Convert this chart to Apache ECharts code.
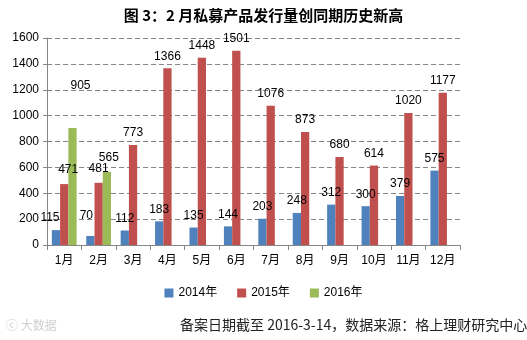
<!DOCTYPE html>
<html><head><meta charset="utf-8">
<script src="https://cdn.jsdelivr.net/npm/echarts@6/dist/echarts.min.js"></script>
<style>html,body{margin:0;padding:0;background:#fff}#c{width:527px;height:340px}</style>
</head><body><div id="c"></div>
<script>
const categories = ['1月','2月','3月','4月','5月','6月','7月','8月','9月','10月','11月','12月'];
const s2014 = [115, 70, 112, 183, 135, 144, 203, 248, 312, 300, 379, 575];
const s2015 = [471, 481, 773, 1366, 1448, 1501, 1076, 873, 680, 614, 1020, 1177];
const s2016 = [905, 565];
const seriesNames = ['2014年','2015年','2016年'];
const yTicks = {min: 0, max: 1600, interval: 200};

const colors = ['#4F81BD','#C0504D','#9BBB59'];
const lblFont = {fontFamily: 'Liberation Sans, Arial, sans-serif', fontSize: 12, color: '#000'};
// label offset tweaks (styling, by series index and data index)
const labelShift = {
  '0-0': [-6, 0], '1-0': [4, -2], '2-0': [8, -30],
  '0-1': [-4, -8], '1-1': [0, -2], '2-1': [2, -2]
};
function mk(idx, data) {
  return {
    name: seriesNames[idx], type: 'bar', data: data.map((v, i) => {
      const o = {value: v};
      const sh = labelShift[idx + '-' + i];
      if (sh) o.label = {offset: sh};
      return o;
    }),
    barGap: '0%', barCategoryGap: '28%',
    itemStyle: {color: colors[idx]},
    label: Object.assign({show: true, position: 'top', distance: 6}, lblFont)
  };
}
const chart = echarts.init(document.getElementById('c'));
chart.setOption({
  animation: false,
  title: {text: '图 3：2 月私募产品发行量创同期历史新高', left: 'center', top: 3,
    textStyle: {fontFamily: 'Noto Sans CJK SC', fontWeight: 'bold', fontSize: 15, color: '#000'}},
  grid: {left: 47, right: 67, top: 38, bottom: 95},
  legend: {bottom: 36, left: 'center', itemWidth: 9, itemHeight: 9, itemGap: 20, icon: 'rect',
    textStyle: {fontFamily: 'Liberation Sans, Noto Sans CJK SC', fontSize: 12, color: '#000'},
    data: seriesNames},
  xAxis: {type: 'category', data: categories,
    axisLine: {lineStyle: {color: '#868686'}},
    axisTick: {show: true, alignWithLabel: false, length: 5, lineStyle: {color: '#868686'}},
    axisLabel: {fontFamily: 'Liberation Sans, Noto Sans CJK SC', fontSize: 12, color: '#000', margin: 10}},
  yAxis: {type: 'value', min: yTicks.min, max: yTicks.max, interval: yTicks.interval,
    axisLine: {show: true, lineStyle: {color: '#868686'}},
    axisTick: {show: true, length: 4, lineStyle: {color: '#868686'}},
    axisLabel: {fontFamily: 'Liberation Sans, Arial, sans-serif', fontSize: 12, color: '#000', margin: 8,
      formatter: v => String(v)},
    splitLine: {lineStyle: {color: '#868686', type: [5, 3]}}},
  series: [mk(0, s2014), mk(1, s2015), mk(2, s2016)],
  graphic: [
    {type: 'text', left: 180, top: 318, style: {text: '备案日期截至 2016-3-14，数据来源：格上理财研究中心',
      font: '14px "Noto Sans CJK SC"', fill: '#222'}},
    {type: 'text', left: 6, top: 319, style: {text: 'ⓒ 大数据', font: '12px "Noto Sans CJK SC"', fill: '#d0d0d0'}}
  ]
});
</script></body></html>
